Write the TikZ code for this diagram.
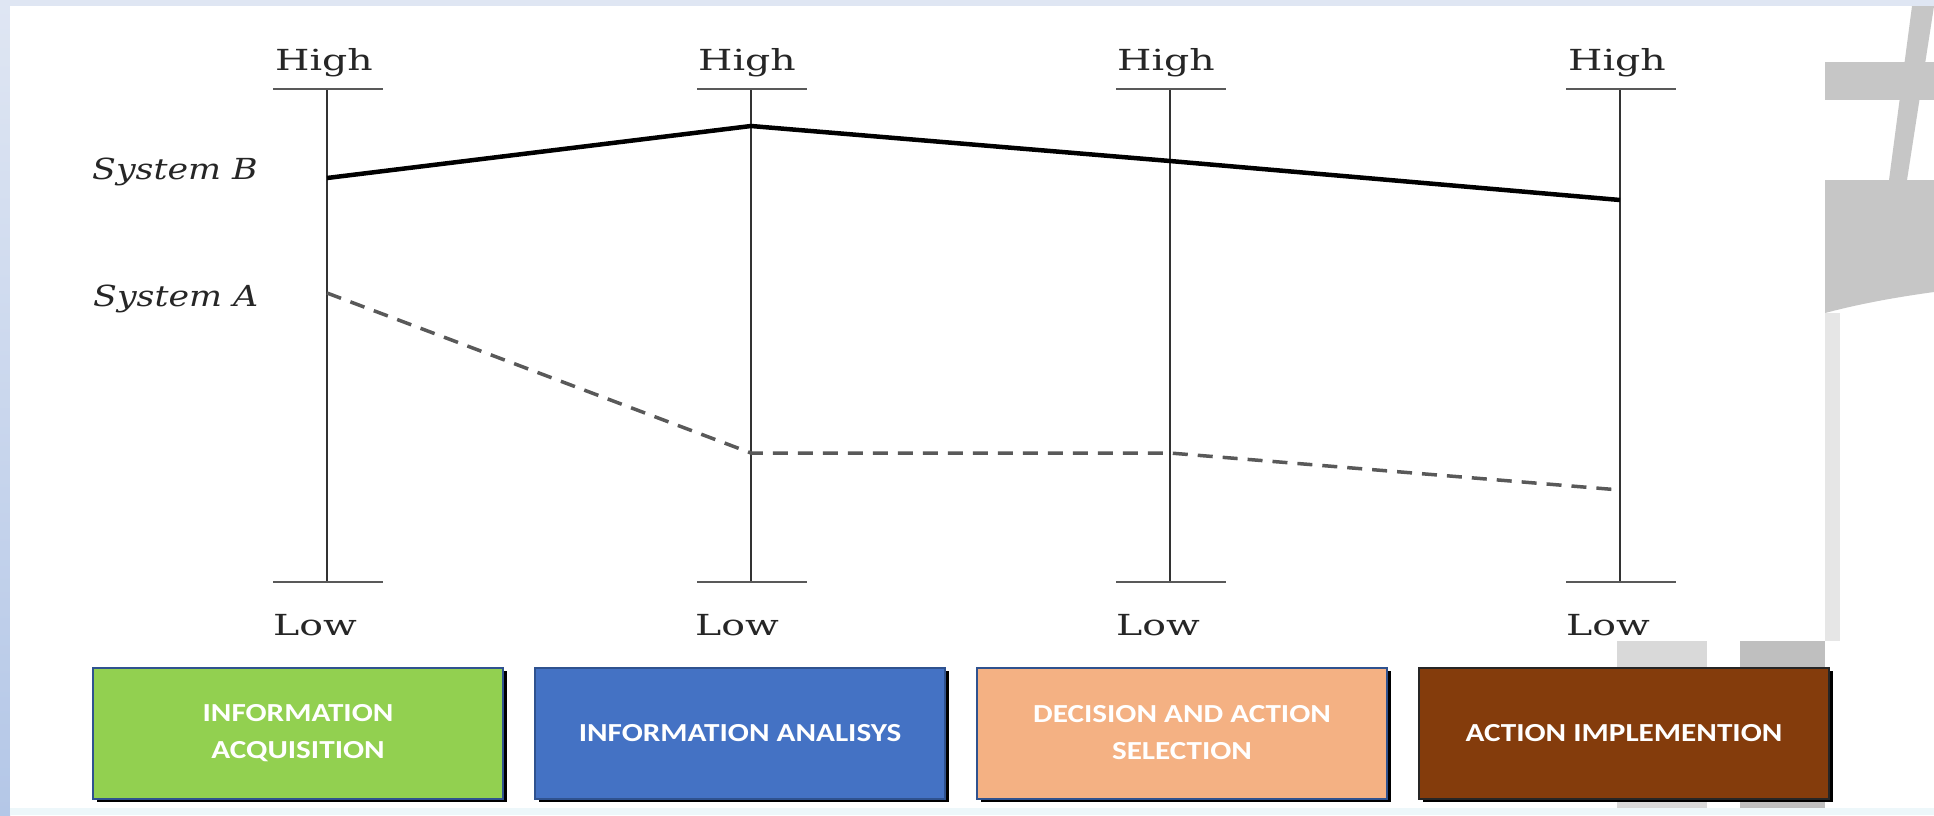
\documentclass[tikz,border=0pt]{standalone}
\usepackage{fontspec}
\newfontfamily\stagefont[FakeStretch=1.2]{Carlito}
\newfontfamily\scalefont{DejaVu Serif}
\usetikzlibrary{positioning,shadows}

\definecolor{acqgreen}{HTML}{92D050}
\definecolor{anablue}{HTML}{4472C4}
\definecolor{decpeach}{HTML}{F4B183}
\definecolor{actbrown}{HTML}{843C0C}
\definecolor{stageline}{HTML}{2F528F}
\definecolor{frametop}{HTML}{DFE6F3}
\definecolor{frameleft}{HTML}{B4C7E7}
\definecolor{framebottom}{HTML}{EDF7FA}
\definecolor{decogray}{HTML}{C6C6C6}
\definecolor{decolight}{HTML}{E6E6E6}

\newcommand{\wide}[2][1.36]{\scalebox{#1}[1]{#2}}

\begin{document}
\begin{tikzpicture}[x=1pt, y=-1pt,
  node distance=30pt,
  scalelabel/.style={inner sep=0pt, anchor=base west, text=black!85, font=\scalefont\fontsize{29}{34}\selectfont},
  axisline/.style={draw=black!80, line width=2.5pt},
  tickline/.style={draw=black!65, line width=2.2pt},
  sysb/.style={line width=4.5pt, line join=round},
  sysa/.style={draw=black!65, line width=3.5pt, dash pattern=on 15pt off 10pt},
  stage/.style={minimum width=410pt, minimum height=131pt, align=center, text=white,
    line width=2pt, draw=stageline, font=\stagefont\bfseries\fontsize{26}{37}\selectfont,
    drop shadow={shadow xshift=4pt, shadow yshift=-3pt, fill=black, opacity=1}}
]
\useasboundingbox (0,0) rectangle (1934,815);

% slide background
\fill[frametop] (0,0) rectangle (1934,815);
\shade[top color=frametop, bottom color=frameleft] (0,0) rectangle (10,815);
\fill[framebottom] (10,808) rectangle (1934,815);
\fill[white] (10,6) rectangle (1934,808);
\fill[decogray] (1825,62) rectangle (1934,100);
\fill[decogray] (1912,6) -- (1934,6) -- (1907,180) -- (1889,180) -- cycle;
\fill[decogray] (1825,180) -- (1934,180) -- (1934,292) .. controls (1890,298) and (1855,305) .. (1825,313) -- cycle;
\fill[decolight] (1825,313) rectangle (1840,641);
\fill[black!15] (1617,641) rectangle (1707,808);
\fill[black!25] (1740,641) rectangle (1825,808);

% axes
\coordinate (top1) at (327,89);  \coordinate (bot1) at (327,582);
\coordinate (top2) at (751,89);  \coordinate (bot2) at (751,582);
\coordinate (top3) at (1170,89); \coordinate (bot3) at (1170,582);
\coordinate (top4) at (1620,89); \coordinate (bot4) at (1620,582);
\draw[axisline] (top1) -- (bot1);
\draw[axisline] (top2) -- (bot2);
\draw[axisline] (top3) -- (bot3);
\draw[axisline] (top4) -- (bot4);
\draw[tickline] ([xshift=-54pt]top1) -- ([xshift=56pt]top1);
\draw[tickline] ([xshift=-54pt]top2) -- ([xshift=56pt]top2);
\draw[tickline] ([xshift=-54pt]top3) -- ([xshift=56pt]top3);
\draw[tickline] ([xshift=-54pt]top4) -- ([xshift=56pt]top4);
\draw[tickline] ([xshift=-54pt]bot1) -- ([xshift=56pt]bot1);
\draw[tickline] ([xshift=-54pt]bot2) -- ([xshift=56pt]bot2);
\draw[tickline] ([xshift=-54pt]bot3) -- ([xshift=56pt]bot3);
\draw[tickline] ([xshift=-54pt]bot4) -- ([xshift=56pt]bot4);

\node[scalelabel] (high1) at (275,70) {\wide{High}};
\node[scalelabel] (high2) at (698,70) {\wide{High}};
\node[scalelabel] (high3) at (1117,70) {\wide{High}};
\node[scalelabel] (high4) at (1568,70) {\wide{High}};
\node[scalelabel] (low1) at (273,635) {\wide{Low}};
\node[scalelabel] (low2) at (695,635) {\wide{Low}};
\node[scalelabel] (low3) at (1116,635) {\wide{Low}};
\node[scalelabel] (low4) at (1566,635) {\wide{Low}};

% system levels
\coordinate (b1) at (327,178);  \coordinate (a1) at (327,293);
\coordinate (b2) at (751,126);  \coordinate (a2) at (751,453);
\coordinate (b3) at (1170,161); \coordinate (a3) at (1170,453);
\coordinate (b4) at (1620,200); \coordinate (a4) at (1620,490);
\draw[sysb] (b1) -- (b2) -- (b3) -- (b4);
\draw[sysa] (a1) -- (a2) -- (a3) -- (a4);
\node[scalelabel] (sysbl) at (92,179) {\wide[1.2]{\itshape System B}};
\node[scalelabel] (sysal) at (93,306) {\wide[1.2]{\itshape System A}};

% stages
\node[stage, fill=acqgreen] (acq) at (298,733) {INFORMATION\\ACQUISITION};
\node[stage, fill=anablue, right=of acq] (ana) {INFORMATION ANALISYS};
\node[stage, fill=decpeach, right=of ana] (dec) {DECISION AND ACTION\\SELECTION};
\node[stage, fill=actbrown, draw=black!85, right=of dec] (act) {ACTION IMPLEMENTION};
\end{tikzpicture}
\end{document}
